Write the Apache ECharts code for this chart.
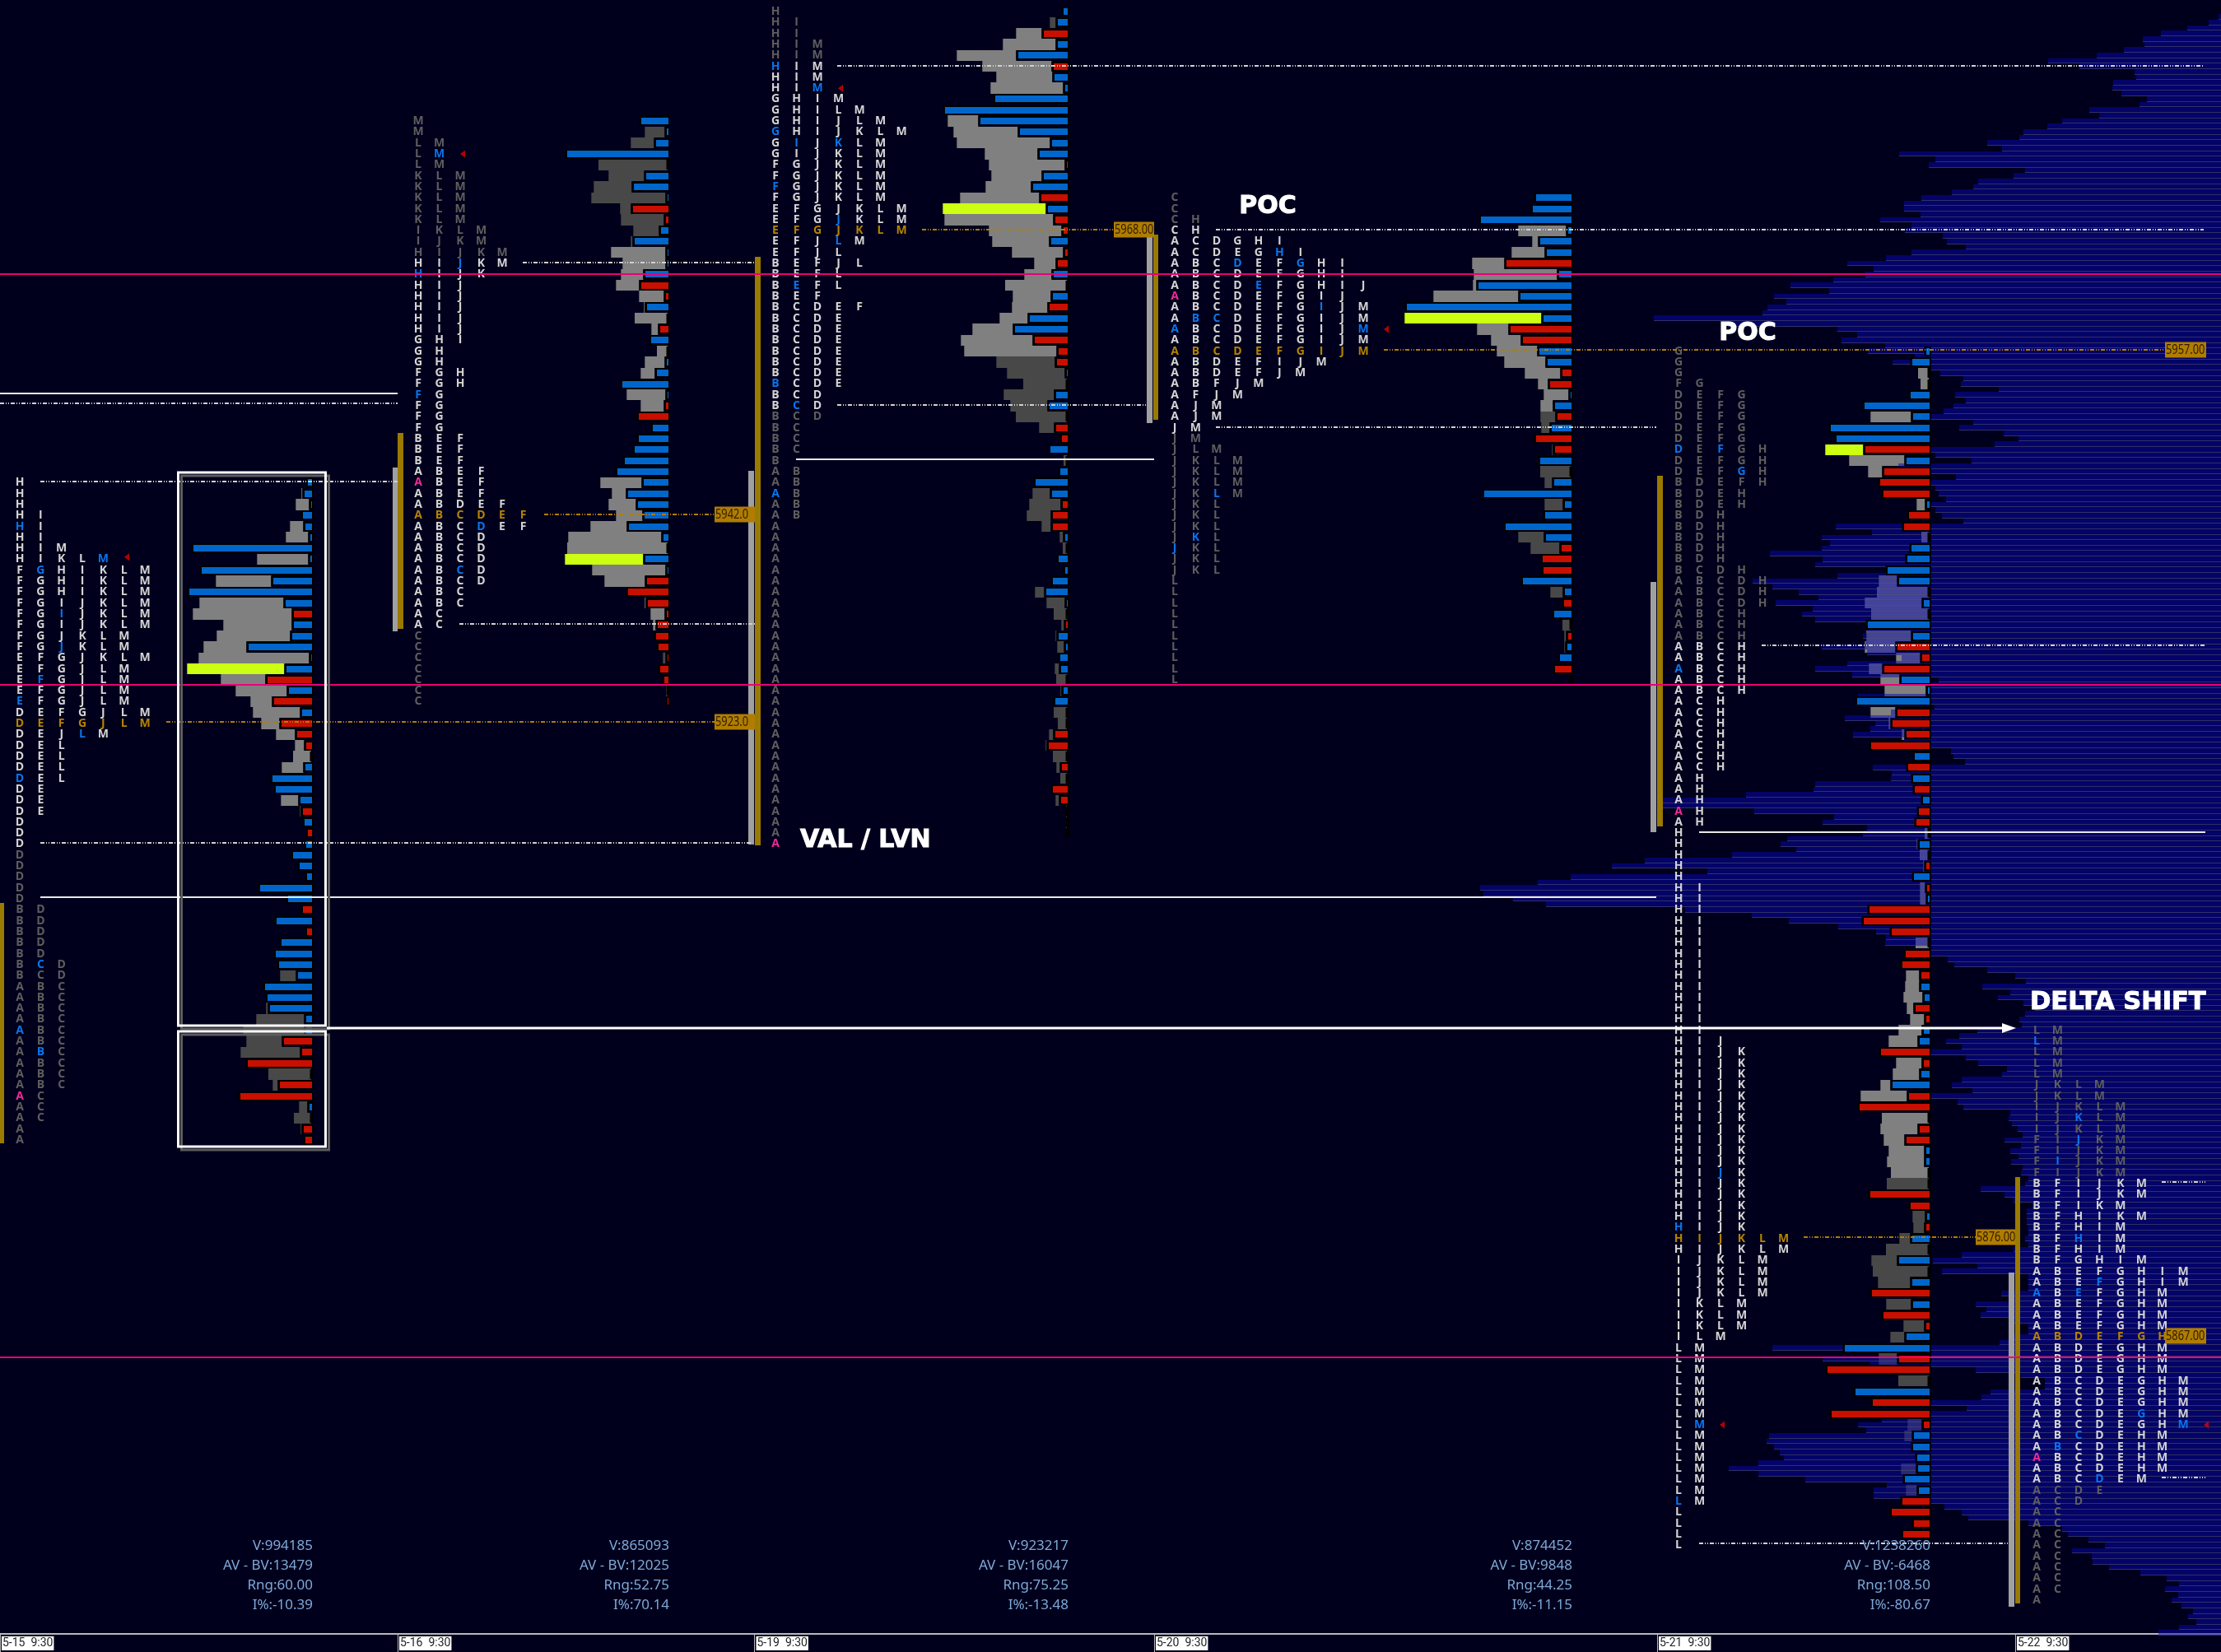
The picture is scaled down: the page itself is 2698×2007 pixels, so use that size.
<!DOCTYPE html>
<html><head><meta charset="utf-8">
<style>html,body{margin:0;padding:0;background:#00001c}#c{width:2698px;height:2007px}</style>
<script src="https://cdn.jsdelivr.net/npm/echarts@6/dist/echarts.min.js"></script>
</head><body><div id="c"></div>
<script>
// ---------- Data ----------
const dateTicks=[0,483,916.5,1402,2013,2448];
const dateLabels=['5-15  9:30','5-16  9:30','5-19  9:30','5-20  9:30','5-21  9:30','5-22  9:30'];

// Letter rows: lowercase = blue letter, * = pink opening letter
const s1Top=5945;
const s1Letters=['H','H','H','H I','h I','H I','H I M','H I K L m','F g H I K L M','F G H I K L M','F G H I K L M','F G I J K L M','F G i J K L M','F G I J K L M','F G J K L M','F G j K L M','E F G J K L M','E F G J L M','E f G J L M','E F G J L M','e F G J L M','D E F G J L M','D E F G J L M','D E J l M','D E L','D E L','D E L','d E L','D E','D E','D E','D','D','D','D','D','D','D','D','B D','B D','B D','B D','B D','B c D','B C D','A B C','A B C','A B C','A B C','a B C','A B C','A b C','A B C','A B C','A B C','*A C','A C','A C','A','A'];
const s1Delta=[5,9,1,11,8,2,144,2,134,47,149,32,-22,22,24,77,-1,31,-54,28,-46,12,-37,-18,-7,0,8,48,44,14,-11,9,-5,7,23,15,6,63,29,-11,43,-6,37,44,40,17,57,54,51,7,7,-34,-12,-78,0,-39,-87,3,0,-10,-8];
const s1Volume=[0,1,16,0,16,27,0,62,0,67,0,102,120,83,89,52,134,118,54,62,26,57,22,23,11,22,26,0,0,21,1,0,0,0,0,0,0,0,0,0,0,0,0,0,0,19,0,0,2,58,74,43,72,0,52,6,0,10,21,1,0];

const s2Top=5978;
const s2Letters=['M','M','L M','L m','L M','K L M','K L M','K L M','K L M','K L M','I K L M','I J K M','H I J K M','H I j K M','h I J K','H I J','H I J','H I J','H I J','H I J','G H I','G H','G H','F G H','F G H','f G','F G','F G','F G','B E F','B E F','B E F','A B E F','*A B E F','A B E F','A B D E F','A B C D E F','A B C d E F','A B C D','A B C D','A B C D','A B c D','A B C D','A B C','A B C','A C','A C','C','C','C','C','C','C','C'];
const s2Delta=[33,2,15,123,0,27,42,1,-43,-3,9,41,1,1,28,-33,-3,26,0,-10,21,0,2,14,56,1,-3,-36,19,36,41,53,62,30,49,37,29,48,6,0,28,1,-26,-49,-25,-2,-13,-15,-12,-1,-10,-5,0,-1];
const s2Volume=[0,24,28,0,84,43,46,90,13,52,31,2,66,52,27,28,30,1,40,8,0,13,24,17,0,47,28,0,0,0,0,0,0,50,17,33,32,44,113,122,95,89,49,0,1,17,3,0,0,3,0,0,2,0];

const s3Top=5988;
const s3Letters=['H','H I','H I','H I M','H I M','h I M','H I M','H I m','G H I M','G H I L M','G H I J L M','g H I J K L M','G i J k L M','G I J K L M','F G J K L M','F G J K L M','f G J K L M','F G J K L M','E F G J K L M','E F G j K L M','E F G J K L M','E F J l M','E F J L','B E F J L','B E F L','B e F L','B E F','B C D E F','B C D E','B C D E','B C D E','B C D E','B C D E','B C D E','b C D E','B C D','B c D','B C D','B C','B C','B C','B','A B','A B','a B','A B','A B','A','A','A','A','A','A','A','A','A','A','A','A','A','A','A','A','A','A','A','A','A','A','A','A','A','A','A','A','A','*A'];
const s3Delta=[5,12,-29,12,60,-17,16,3,88,149,106,58,19,34,-1,29,42,-32,24,-15,-5,20,-3,-12,17,0,18,-22,46,64,-40,-11,-13,1,0,14,22,0,-14,-7,21,0,9,39,19,-6,-18,-18,3,0,11,3,18,26,1,0,-2,11,2,9,8,0,5,15,0,0,-15,-23,0,-7,0,-18,-8,0,0,0];
const s3Volume=[0,7,31,64,72,84,68,88,0,0,37,78,113,64,92,61,55,96,125,132,88,69,62,26,33,75,46,43,34,49,87,112,71,70,53,61,45,62,18,0,0,4,0,0,21,38,29,11,4,5,0,0,0,11,22,16,3,1,8,0,5,13,1,0,16,11,5,1,17,4,8,0,4,1,1,0];

const s4Top=5971;
const s4Letters=['C','C','C H','C H','A C D G H I','A C D E G h I','A B C d E F g H I','A B C D E F G H I','A B C D e F G H I J','*A B C D E F G I J','A B C D E F G i J M','A b c D E F G I J M','a B C D E F G I J m','A B C D E F G I J M','A B C D E F G I J M','A B D E F I J M','A B D E F J M','A B F J M','A F J M','A J M','A J M','J M','J M','J L M','J K L M','J K L M','J K L M','J K l M','J K L','J K L','J K L','J k L','j K L','J K L','J K L','L','L','L','L','L','L','L','L','L','L'];
const s4Delta=[43,47,110,4,38,30,-79,15,113,62,200,34,-74,-59,39,29,-11,-26,1,20,-17,24,-43,-20,38,0,21,106,8,32,80,31,-12,-35,-34,59,8,-9,21,0,-4,5,14,-20,0];
const s4Volume=[0,0,0,58,7,40,39,101,4,103,0,166,38,36,49,50,43,12,30,15,18,10,0,1,0,37,9,0,22,0,0,31,35,0,0,0,15,0,0,10,2,1,0,0,0];

const s5Top=5957;
const s5Letters=['G','G','G','F G','D E F G','D E F G','D E F G','D E F G','D E F G','d E f G H','D E F G H','D E F g H','B D E F H','B D E H','B D E H','B D H','B D H','B D H','B D H','B D H','B C D H','A B C D H','A B C D H','A B C D H','A B C H','A B C H','A B C H','A B C H','A B C H','a B C H','A B C H','A B C H','A C H','A C H','A C H','A C H','A C H','A C H','A C H','A H','A H','A H','*A H','A H','H','H','H','H','H','H I','H I','H I','H I','H I','H I','H I','H I','H I','H I','H I','H I','H I','H I','H I J','H I J K','H I J K','H I J K','H I J K','H I J K','H I J K','H I J K','H I J K','H I J K','H I J K','H I J K','H I j K','H I J K','H I J K','H I J K','H I J K','h I J K','H I J K L M','H I J K L M','I J K L M','I J K L M','I J K L M','I J K L M','I K L M','I K L M','I K L M','I L M','L M','L M','L M','L M','L M','L M','L M','L m','L M','L M','L M','L M','L M','L M','l M','L','L','L','L'];
const s5Delta=[4,21,0,0,23,79,20,120,113,-78,28,-55,-60,-56,3,-25,-31,0,22,27,51,37,0,7,0,75,20,-39,-9,-55,34,2,88,-39,-45,-28,-71,18,-26,20,-18,8,-13,-16,0,12,0,-4,19,-3,2,-73,-80,-46,0,-29,-33,-10,10,6,-17,-4,7,12,-59,-7,10,45,-25,-85,0,-12,-28,4,4,0,0,-72,-23,3,-4,21,0,37,0,21,-70,20,-56,-4,28,103,-37,-124,0,90,-69,-119,-7,19,20,15,14,30,13,-33,-46,-19,-32];
const s5Volume=[0,0,13,10,0,0,49,0,0,46,67,17,0,0,10,0,0,9,0,0,0,22,63,69,70,0,54,37,29,16,23,50,0,30,2,3,0,0,0,0,0,0,0,0,5,1,11,1,0,6,7,0,0,0,16,0,0,16,17,23,8,17,28,35,0,31,32,12,56,0,57,45,25,43,45,46,51,0,0,15,13,13,52,31,68,39,0,30,0,25,17,0,22,0,37,0,0,0,17,9,0,0,18,0,13,0,0,0,0];

const s6Top=5895;
const s6Letters=['L M','l M','L M','L M','L M','J K L M','J K L M','I J K L M','I J k L M','I J K L M','F I j K M','F I J K M','F i J K M','F I J K M','B F I J K M','B F I J K M','B F I K M','B F H I K M','B F H I M','B F h I M','B F H I M','B F G H I M','A B E F G H I M','A B E f G H I M','a B e F G H M','A B E F G H M','A B E F G H M','A B E F G H M','A B D E F G H','A B D E G H M','A B D E G H M','A B D E G H M','A B C D E G H M','A B C D E G H M','A B C D E G H M','A B C D E g H M','A B C D E G H m','A B c D E H M','A b C D E H M','*A B C D E H M','A B C D E H M','A B C d E M','A C D E','A C D','A C','A C','A C','A C','A C','A C','A C','A C','A'];

// Composite profile of all sessions, one row per half point from 5987.5 down
const compositeTop=5987.5;
const compositeVolume=[3,15,41,73,95,93,118,151,210,172,105,103,131,132,121,90,99,160,148,193,211,240,245,284,266,391,347,355,238,252,295,301,327,364,385,385,365,414,376,384,338,333,310,376,407,454,422,432,471,523,476,543,528,551,557,689,599,466,442,461,408,
429,372,399,352,341,313,316,270,323,310,325,337,352,301,318,264,246,275,352,347,303,392,352,322,352,347,343,334,352,347,339,313,468,424,485,475,485,548,484,493,408,466,569,545,513,489,541,496,509,493,430,430,435,432,485,430,388,454,493,448,343,352,354,441,352,348,401,457,420,426,447,385,352,328,325,311,423,400,401,493,495,577,678,678,567,470,484,430,435,527,535,516,594,
700,740,624,790,830,900,896,860,820,651,570,525,465,419,407,408,352,352,332,324,284,250,237,290,256,271,240,226,238,245,242,296,318,334,315,352,310,295,260,266,315,327,302,352,320,313,256,258,254,247,241,263,243,256,246,255,241,243,234,238,292,263,252,229,236,236,236,234,234,238,234,252,315,350,296,339,234,234,234,267,258,298,285,292,256,234,234,252,269,545,352,484,
427,298,243,214,214,280,291,352,309,352,412,441,431,549,552,543,536,531,562,598,562,505,406,422,422,352,336,315,307,234,193,186,161,141,181,157,156,136,98,66,51,68,52,60,48,34,40,30,51,76];

const pinkLevels=[5964.03,5926.54,5865.16];
// [from x, to x, price, style]
const levelLines=[
 [0,483,5953.1,'solid'],[0,483,5952.24,'dash'],[49,483,5945.13,'dash'],[49,912,5912.12,'dash'],[49,2012,5907.16,'solid'],[202,868,5923.16,'gold'],
 [635,917,5965.11,'dash'],[558,917,5932.13,'dash'],[661,868,5942.09,'gold'],
 [1017,2677,5983.04,'dash'],[1017,1393,5952.11,'dash'],[1120,1353,5968.09,'gold'],[967,1402,5947.13,'solid'],
 [1477,2677,5968.09,'dash'],[1477,2012,5950.06,'dash'],[1681,2630,5957.12,'gold'],
 [2140,2679,5930.15,'dash'],[2064,2679,5913.12,'solid'],[2191,2400,5876.13,'gold'],[2064,2440,5848.18,'dash'],
 [2626,2679,5881.16,'dash'],[2626,2679,5854.19,'dash']];
// [from x, width, top price, bottom price, colour kind]
const rangeBars=[
 [0,5,5906.6,5884.7,'gold'],[477,6,5946.4,5931.4,'gray'],[483,7,5949.5,5931.65,'gold'],[909,7,5946.1,5912,'gray'],[917,7,5965.6,5911.9,'gold'],
 [1393,7,5967.6,5950.4,'gray'],[1401,6,5967.6,5950.7,'gold'],[2005,7,5935.9,5913.1,'gray'],[2013,7,5945.6,5913.6,'gold'],[2440,7,5872.9,5842.4,'gray'],[2448,6,5881.6,5842.7,'gold']];
const priceTags=[[868,49,5923.16,'5923.0'],[868,49,5942.09,'5942.0'],[1353,49,5968.09,'5968.00'],[2630,50,5957.12,'5957.00'],[2400,48,5876.13,'5876.00'],[2630,50,5867.1,'5867.00']];
const statsV=['V:994185','V:865093','V:923217','V:874452','V:1238260'];
const statsDelta=['AV - BV:13479','AV - BV:12025','AV - BV:16047','AV - BV:9848','AV - BV:-6468'];
const statsRange=['Rng:60.00','Rng:52.75','Rng:75.25','Rng:44.25','Rng:108.50'];
const statsImbalance=['I%:-10.39','I%:70.14','I%:-13.48','I%:-11.15','I%:-80.67'];
const notes=[['POC',1540,5970.15,'center'],['POC',2123,5958.6,'center'],['VAL / LVN',972,5912.3,'left'],['DELTA SHIFT',2466,5897.55,'left']];
const markers=[[154,5938.2],[562,5975],[1021,5981],[1684,5959],[2092,5859],[2680,5859]];
const boxes=[[216.5,395.5,5945.9,5895.4],[216.5,395.5,5894.9,5884.4]];
const arrow=[397,2449,5895.2];

// ---------- Layout of the sessions ----------
const sessions=[
 {top:s1Top,letters:s1Letters,delta:s1Delta,vol:s1Volume,right:379,col:24,pitch:25.35,bright:[5945,5912],light:[5945,5916],poc:5928,gold:5923},
 {top:s2Top,letters:s2Letters,delta:s2Delta,vol:s2Volume,right:812,col:508,pitch:25.5,bright:[5965,5932],light:[5966,5932],poc:5938,gold:5942},
 {top:s3Top,letters:s3Letters,delta:s3Delta,vol:s3Volume,right:1297,col:942,pitch:25.5,bright:[5983,5952],light:[5986,5957],poc:5970,gold:5968},
 {top:s4Top,letters:s4Letters,delta:s4Delta,vol:s4Volume,right:1909,col:1427,pitch:25.45,bright:[5968,5950],light:[5968,5952],poc:5960,gold:5957},
 {top:s5Top,letters:s5Letters,delta:s5Delta,vol:s5Volume,right:2344,col:2039,pitch:25.5,bright:[5930,5848],light:[5957,5882],poc:5948,gold:5876},
 {top:s6Top,letters:s6Letters,delta:[],vol:[],right:2698,col:2474,pitch:25.45,bright:[5881,5854],light:[0,0],poc:0,gold:5867}];

const C={bg:'#00001c',blue:'#0066cc',red:'#c80f00',light:'#808080',dark:'#484848',poc:'#ccff11',pink:'#ec0078',gold:'#9a7a00',tag:'#b07d00',
 txtBright:'#d4d4d4',txtDim:'#5e5e5e',txtBlue:'#0a74ea',txtPink:'#ee2a96',txtGold:'#b58300'};
const LETTER_FONT='bold 14px "Open Sans"';
const STAT_FONT='17px "Noto Sans"';

// ---------- Helpers ----------
function rect(api,x0,x1,pTop,pBot){
  const a=api.coord([x0,pTop]),b=api.coord([x1,pBot]);
  const y0=Math.round(a[1]),y1=Math.round(b[1]);
  return {x:a[0],y:y0,width:b[0]-a[0],height:y1-y0};
}
function series(name,items,z,draw){
  return {type:'custom',name,coordinateSystem:'cartesian2d',z,silent:true,animation:false,clip:false,progressive:0,
    data:items.map(d=>[d.x,d.y]),encode:{x:0,y:1},
    renderItem:(p,api)=>draw(items[p.dataIndex],api)};
}

// ---------- Build marks ----------
const grayItems=[],deltaItems=[],letterItems=[];
sessions.forEach(s=>{
  s.delta.forEach((d,i)=>{
    const p=s.top-i,len=Math.abs(d),v=s.vol[i];
    deltaItems.push({x:s.right-len,y:p,x1:s.right,c:d<0?C.red:C.blue});
    if(v>0){
      const r=s.right-len-(len?2.7:1);
      const c=p===s.poc?C.poc:(p<=s.light[0]&&p>=s.light[1]?C.light:C.dark);
      grayItems.push({x:r-v,y:p,x1:r,c});
    }
  });
  s.letters.forEach((row,i)=>{
    const p=s.top-i,bright=p<=s.bright[0]&&p>=s.bright[1];
    row.split(' ').forEach((t,j)=>{
      let ch=t,col=p===s.gold?C.txtGold:(bright?C.txtBright:C.txtDim);
      if(t[0]==='*'){ch=t[1];col=C.txtPink;}
      else if(t!==t.toUpperCase()){ch=t.toUpperCase();if(p!==s.gold)col=C.txtBlue;}
      letterItems.push({x:s.col+j*s.pitch,y:p,ch,col});
    });
  });
});
const compositeItems=compositeVolume.map((v,i)=>({x:2698-v,y:compositeTop-i*0.5,x1:2698}));
const pinkItems=pinkLevels.map(p=>({x:0,y:p,x1:2698}));
const lineItems=levelLines.map(l=>({x:l[0],x1:l[1],y:l[2],k:l[3]}));
const barItems=rangeBars.map(b=>({x:b[0],w:b[1],y:b[2],y1:b[3],k:b[4]}));
const tagItems=priceTags.map(t=>({x:t[0],w:t[1],y:t[2],t:t[3]}));
const statItems=[];
[statsV,statsDelta,statsRange,statsImbalance].forEach((arr,r)=>arr.forEach((t,i)=>{
  statItems.push({x:sessions[i].right+1,y:5847.95-r*1.8,t});
}));
const noteItems=notes.map(n=>({t:n[0],x:n[1],y:n[2],a:n[3]}));
const boxItems=boxes.map(b=>({x:b[0],x1:b[1],y:b[2],y1:b[3]}));

const option={
  backgroundColor:C.bg,animation:false,
  grid:{left:0,right:0,top:0,bottom:22,outerBoundsMode:'none'},
  xAxis:{type:'value',min:0,max:2698,splitLine:{show:false},
    axisLine:{show:true,onZero:false,lineStyle:{color:'#b8b8b8',width:2}},
    axisTick:{show:true,customValues:dateTicks,length:22,lineStyle:{color:'#b8b8b8'}},
    axisLabel:{show:true,customValues:dateTicks.map(v=>v+2),margin:3,align:'left',verticalAlign:'top',showMinLabel:true,showMaxLabel:true,hideOverlap:false,
      formatter:v=>dateLabels[dateTicks.findIndex(t=>t+2===v)]||'',
      color:'#222',backgroundColor:'#ffffff',fontFamily:'Roboto',fontSize:14,lineHeight:17,padding:[0,1,0,1]}},
  yAxis:{type:'value',show:false,min:5839.91,max:5989.05,splitLine:{show:false}},
  series:[
    series('volume',grayItems,1,(d,api)=>({type:'rect',shape:rect(api,d.x,d.x1,d.y+.5,d.y-.5),style:{fill:d.c}})),
    series('composite',compositeItems,2,(d,api)=>{
      const s=rect(api,d.x,d.x1,d.y+.25,d.y-.25);
      return {type:'group',children:[
        {type:'rect',shape:s,style:{fill:'rgba(6,6,180,0.5)'}},
        {type:'rect',shape:{x:s.x,y:s.y+s.height-1,width:s.width,height:1},style:{fill:'rgba(85,85,100,0.55)'}}]};}),
    series('delta',deltaItems,3,(d,api)=>{
      const c=api.coord([d.x,d.y]),e=api.coord([d.x1,d.y]),m=Math.round(c[1]);
      return {type:'group',children:[
        {type:'rect',shape:{x:c[0]-2.5,y:m-6,width:e[0]-c[0]+4.5,height:12},style:{fill:'#000'}},
        {type:'rect',shape:{x:c[0],y:m-4,width:e[0]-c[0],height:8},style:{fill:d.c}}]};}),
    series('rangeBars',barItems,4,(d,api)=>({type:'rect',shape:rect(api,d.x,d.x+d.w,d.y,d.y1),style:{fill:d.k==='gold'?C.gold:'#a0a0a0'}})),
    series('letters',letterItems,5,(d,api)=>{
      const c=api.coord([d.x,d.y]);
      return {type:'text',style:{x:c[0],y:c[1],text:d.ch,fill:d.col,font:LETTER_FONT,align:'center',verticalAlign:'middle'}};}),
    series('levels',lineItems,6,(d,api)=>{
      const a=api.coord([d.x,d.y]),b=api.coord([d.x1,d.y]),y=Math.round(a[1]);
      const st={solid:{stroke:'#e8e8e8',lineWidth:2},dash:{stroke:'#d0d0d0',lineWidth:2,lineDash:[5,2,1,2,1,2]},gold:{stroke:C.tag,lineWidth:2,lineDash:[5,2,1,2,1,2]}}[d.k];
      return {type:'line',shape:{x1:a[0],y1:y,x2:b[0],y2:y},style:st};}),
    series('pink',pinkItems,7,(d,api)=>{
      const a=api.coord([d.x,d.y]),b=api.coord([d.x1,d.y]),y=Math.round(a[1]);
      return {type:'line',shape:{x1:a[0],y1:y,x2:b[0],y2:y},style:{stroke:C.pink,lineWidth:2}};}),
    series('tags',tagItems,8,(d,api)=>{
      const c=api.coord([d.x,d.y]);
      return {type:'group',children:[
        {type:'rect',shape:{x:c[0],y:c[1]-9.5,width:d.w,height:19},style:{fill:C.tag}},
        {type:'text',x:c[0]+1,y:c[1]+.5,scaleX:.8,style:{x:0,y:0,text:d.t,fill:'#2e1c00',font:'16px "Noto Sans"',align:'left',verticalAlign:'middle'}}]};}),
    series('stats',statItems,9,(d,api)=>{
      const c=api.coord([d.x,d.y]);
      return {type:'text',style:{x:c[0],y:c[1],text:d.t,fill:'#7fa8d8',font:STAT_FONT,align:'right',verticalAlign:'middle'}};}),
    series('boxes',boxItems,10,(d,api)=>{
      const s=rect(api,d.x,d.x1,d.y,d.y1);
      return {type:'group',children:[
        {type:'rect',shape:{x:s.x+4,y:s.y+4,width:s.width,height:s.height},style:{fill:'none',stroke:'#5c5c5c',lineWidth:3}},
        {type:'rect',shape:s,style:{fill:'none',stroke:'#ffffff',lineWidth:3}}]};}),
    series('arrow',[{x:arrow[0],x1:arrow[1],y:arrow[2]}],11,(d,api)=>{
      const a=api.coord([d.x,d.y]),b=api.coord([d.x1,d.y]);
      return {type:'group',children:[
        {type:'line',shape:{x1:a[0],y1:a[1],x2:b[0]-10,y2:b[1]},style:{stroke:'#fff',lineWidth:3}},
        {type:'polygon',shape:{points:[[b[0],b[1]],[b[0]-17,b[1]-6],[b[0]-17,b[1]+6]]},style:{fill:'#fff'}}]};}),
    series('notes',noteItems,12,(d,api)=>{
      const c=api.coord([d.x,d.y]);
      const size=d.t==='DELTA SHIFT'?30.5:30;
      return {type:'text',style:{x:c[0],y:c[1],text:d.t,fill:'#fff',stroke:'#fff',lineWidth:1,font:`bold ${size}px "DejaVu Sans"`,align:d.a,verticalAlign:'middle'}};}),
    {type:'scatter',name:'session close',z:13,silent:true,animation:false,data:markers,symbol:'triangle',symbolRotate:90,symbolSize:[9,6],itemStyle:{color:'#e00000'}}
  ]
};
const chart=echarts.init(document.getElementById('c'),null,{renderer:'canvas'});
chart.setOption(option);
</script></body></html>
